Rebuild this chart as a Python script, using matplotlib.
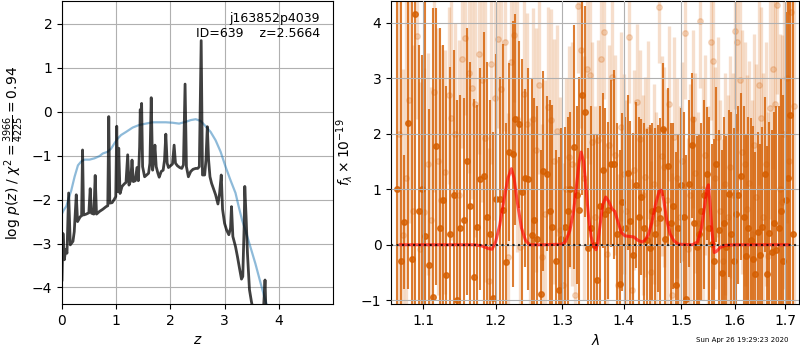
import matplotlib
matplotlib.use("Agg")
import matplotlib.pyplot as plt
from matplotlib.ticker import NullLocator, NullFormatter

# ---------------- p(z) panel ----------------
z_pz = [0.000, 0.018, 0.043, 0.067, 0.092, 0.122, 0.153, 0.202, 0.226, 0.263,
        0.287, 0.336, 0.361, 0.379, 0.398, 0.446, 0.495, 0.520, 0.544, 0.587,
        0.612, 0.636, 0.691, 0.752, 0.813, 0.844, 0.862, 0.881, 0.924, 0.966,
        0.991, 1.009, 1.028, 1.046, 1.070, 1.107, 1.150, 1.180, 1.211, 1.235,
        1.266, 1.291, 1.315, 1.352, 1.382, 1.407, 1.431, 1.443, 1.456, 1.468,
        1.486, 1.523, 1.560, 1.596, 1.621, 1.645, 1.670, 1.694, 1.713, 1.737,
        1.768, 1.792, 1.829, 1.865, 1.890, 1.914, 1.939, 1.963, 2.000, 2.037,
        2.067, 2.092, 2.128, 2.171, 2.208, 2.239, 2.269, 2.294, 2.330, 2.373,
        2.416, 2.465, 2.502, 2.532, 2.566, 2.590, 2.630, 2.654, 2.679, 2.703,
        2.728, 2.758, 2.801, 2.832, 2.875, 2.905, 2.936, 2.960, 2.997, 3.034,
        3.076, 3.107, 3.125, 3.150, 3.199, 3.235, 3.272, 3.309, 3.333, 3.358,
        3.370, 3.394, 3.419, 3.456, 3.492, 3.535, 3.627, 3.700, 3.731, 3.743,
        3.761, 3.810, 4.000, 4.500, 5.000]
logp = [-3.83, -2.77, -3.37, -3.14, -3.22, -1.85, -3.03, -2.95, -2.73, -1.89,
        -2.50, -2.39, -2.37, -0.87, -2.35, -2.33, -2.30, -1.75, -2.31, -2.33,
        -1.45, -2.33, -2.27, -2.22, -2.16, -2.14, -0.11, -2.08, -2.07, -1.99,
        -1.93, -0.33, -1.82, -0.83, -1.86, -1.70, -1.64, -1.61, -0.98, -1.67,
        -1.57, -1.10, -1.59, -1.57, -1.27, -1.57, -0.80, 0.05, -0.64, 0.19,
        -1.25, -1.48, -1.44, -1.40, -1.17, 0.32, -1.33, -1.10, -0.76, -1.25,
        -1.40, -1.49, -1.36, -1.33, -1.10, -0.51, -1.17, -1.27, -1.23, -1.19,
        -0.76, -1.17, -1.23, -1.27, -1.29, -1.21, 0.63, -1.25, -1.48, -1.36,
        -1.31, -1.29, -1.29, -1.25, 1.62, -1.44, -1.44, -1.10, -0.34, -1.10,
        -1.48, -1.63, -1.78, -1.89, -2.10, -1.86, -1.44, -2.22, -2.54, -2.69,
        -2.80, -2.65, -2.16, -2.84, -3.07, -3.30, -3.56, -3.81, -3.75, -2.61,
        -1.70, -2.39, -3.22, -4.05, -4.32, -4.58, -4.81, -4.81, -4.13, -3.83,
        -4.58, -5.04, -5.60, -6.50, -7.50]

z_prior = [0.000, 0.031, 0.080, 0.110, 0.171, 0.232, 0.294, 0.355, 0.416, 0.508,
           0.599, 0.691, 0.752, 0.844, 0.905, 0.966, 1.028, 1.089, 1.180, 1.303,
           1.425, 1.547, 1.670, 1.914, 2.037, 2.159, 2.281, 2.373, 2.465, 2.557,
           2.648, 2.740, 2.832, 2.924, 3.015, 3.107, 3.199, 3.260, 3.321, 3.382,
           3.474, 3.566, 3.657, 3.749, 3.810, 4.000]
logp_prior = [-2.32, -2.24, -2.15, -2.02, -1.79, -1.48, -1.22, -1.13, -1.09, -1.09,
              -1.06, -1.01, -0.95, -0.91, -0.84, -0.72, -0.61, -0.53, -0.46, -0.36,
              -0.30, -0.27, -0.24, -0.24, -0.25, -0.27, -0.23, -0.19, -0.17, -0.21,
              -0.33, -0.46, -0.65, -0.91, -1.25, -1.56, -1.85, -2.17, -2.47, -2.70,
              -3.08, -3.46, -3.88, -4.30, -4.52, -5.20]

pz_label = "j163852p4039\nID=639    z=2.5664"

# ---------------- spectrum panel ----------------
wave_a = [1.066, 1.071, 1.075, 1.080, 1.085, 1.089, 1.094, 1.099, 1.103, 1.108,
          1.113, 1.117, 1.122, 1.127, 1.131, 1.136, 1.141, 1.145, 1.150, 1.155,
          1.159, 1.164, 1.169, 1.173, 1.178, 1.183, 1.187, 1.192, 1.197, 1.201,
          1.206, 1.211, 1.215, 1.220, 1.225, 1.229, 1.234, 1.239, 1.243, 1.248,
          1.253, 1.257, 1.262, 1.267, 1.271, 1.276, 1.281, 1.285, 1.290, 1.295,
          1.299, 1.304, 1.309, 1.313, 1.318, 1.323, 1.327, 1.332, 1.337, 1.341,
          1.346, 1.351, 1.355, 1.360, 1.365, 1.369, 1.374, 1.379, 1.383, 1.388,
          1.393, 1.397, 1.402, 1.407, 1.411, 1.416, 1.421, 1.425, 1.430, 1.435,
          1.439, 1.444, 1.449, 1.453, 1.458, 1.463, 1.467, 1.472, 1.477, 1.481,
          1.486, 1.491, 1.495, 1.500, 1.505, 1.509, 1.514, 1.519, 1.523, 1.528,
          1.533, 1.537, 1.542, 1.547, 1.551, 1.556, 1.561, 1.565, 1.570, 1.575,
          1.579, 1.584, 1.589, 1.593, 1.598, 1.603, 1.607, 1.612, 1.617, 1.621,
          1.626, 1.631, 1.635, 1.640, 1.645, 1.649, 1.654, 1.659, 1.663, 1.668,
          1.673, 1.677, 1.682, 1.687, 1.691, 1.696, 1.701, 1.705, 1.710, 1.715]
flux_a = [1.00, -0.30, 0.41, 2.20, -0.25, 4.15, 0.60, 1.01, 0.15, -0.36,
          -0.94, 1.77, 0.30, 0.80, -0.54, 0.20, 0.90, -1.00, 0.30, 0.45,
          1.50, 0.69, -0.58, 0.32, 1.19, 1.23, 0.50, 0.20, -0.96, 0.83,
          0.83, 0.62, -0.31, 1.67, 1.63, 2.26, 2.17, 0.95, 1.20, 1.19,
          0.18, 0.44, 0.10, -0.89, 1.33, 1.28, 0.60, 0.32, -0.30, -0.82,
          0.10, 0.32, 0.60, 1.00, 1.76, 0.90, 0.62, 2.70, 2.40, -0.05,
          0.30, 0.00, -0.63, 0.70, 1.34, 0.56, 0.62, 1.46, 1.45, 0.20,
          -0.70, 0.77, 0.30, 1.30, 0.43, -0.19, 1.08, 0.50, 0.86, 0.30,
          0.08, -0.05, 0.60, 0.20, 0.65, 0.49, 2.08, 0.11, 1.42, 0.40,
          0.70, -0.73, 0.30, 1.07, 0.50, -0.98, 1.10, 1.79, 0.40, -0.04,
          0.20, 0.60, 0.90, 1.28, 0.30, 0.02, -0.29, 1.45, 0.27, -0.50,
          0.40, -0.04, 0.92, 0.20, -0.30, 0.56, 0.90, 1.23, 0.50, -0.20,
          0.30, 0.08, -0.26, -0.53, 0.23, -0.19, 0.32, 1.27, -0.52, 0.21,
          -0.13, 0.40, -0.10, 0.30, 0.60, -0.30, 0.80, 1.20, 2.33, 0.20]
err_a = [8.0, 8.0, 1.2, 3.0, 5.0, 6.0, 3.0, 2.4, 5.0, 2.8,
         5.2, 2.5, 3.6, 2.8, 3.4, 3.0, 2.6, 3.6, 2.4, 2.2,
         2.4, 2.6, 3.2, 2.2, 2.0, 2.6, 2.8, 2.4, 3.0, 2.6,
         2.2, 3.0, 2.5, 1.6, 2.4, 1.9, 1.5, 2.4, 1.6, 2.0,
         2.8, 2.2, 2.4, 2.6, 1.8, 1.4, 2.0, 2.2, 2.0, 2.4,
         2.0, 1.8, 1.7, 1.4, 2.2, 1.6, 2.4, 1.8, 1.9, 1.8,
         2.2, 2.0, 2.6, 1.8, 1.4, 1.9, 1.6, 1.5, 1.7, 2.0,
         2.4, 1.6, 2.0, 1.4, 1.8, 2.2, 1.5, 1.8, 1.4, 1.9,
         2.0, 2.2, 1.6, 1.9, 1.5, 1.8, 1.2, 2.0, 1.4, 1.8,
         1.5, 2.4, 1.7, 1.4, 1.9, 2.6, 1.5, 1.3, 1.9, 2.0,
         1.8, 1.6, 1.7, 1.2, 2.0, 1.8, 2.2, 1.4, 1.8, 2.2,
         1.9, 2.0, 1.5, 2.2, 2.4, 1.8, 1.6, 1.5, 2.0, 2.2,
         2.0, 2.2, 2.4, 2.2, 1.8, 2.0, 1.8, 1.4, 2.3, 2.0,
         2.2, 2.0, 2.6, 2.2, 2.4, 3.0, 3.4, 5.0, 8.0, 8.0]

wave_b = [1.068, 1.073, 1.078, 1.082, 1.087, 1.092, 1.096, 1.101, 1.106, 1.110,
          1.115, 1.120, 1.124, 1.129, 1.134, 1.138, 1.143, 1.148, 1.152, 1.157,
          1.162, 1.166, 1.171, 1.176, 1.180, 1.185, 1.190, 1.194, 1.199, 1.204,
          1.208, 1.213, 1.218, 1.222, 1.227, 1.232, 1.236, 1.241, 1.246, 1.250,
          1.255, 1.260, 1.264, 1.269, 1.274, 1.278, 1.283, 1.288, 1.292, 1.297,
          1.302, 1.306, 1.311, 1.316, 1.320, 1.325, 1.330, 1.334, 1.339, 1.344,
          1.348, 1.353, 1.358, 1.362, 1.367, 1.372, 1.376, 1.381, 1.386, 1.390,
          1.395, 1.400, 1.404, 1.409, 1.414, 1.418, 1.423, 1.428, 1.432, 1.437,
          1.442, 1.446, 1.451, 1.456, 1.460, 1.465, 1.470, 1.474, 1.479, 1.484,
          1.488, 1.493, 1.498, 1.502, 1.507, 1.512, 1.516, 1.521, 1.526, 1.530,
          1.535, 1.540, 1.544, 1.549, 1.554, 1.558, 1.563, 1.568, 1.572, 1.577,
          1.582, 1.586, 1.591, 1.596, 1.600, 1.605, 1.610, 1.614, 1.619, 1.624,
          1.628, 1.633, 1.638, 1.642, 1.647, 1.652, 1.656, 1.661, 1.666, 1.670,
          1.675, 1.680, 1.684, 1.689, 1.694, 1.698, 1.703, 1.708, 1.712, 1.717]
flux_b = [2.00, 0.17, 1.20, 2.60, 0.60, 3.76, -0.07, 0.59, 1.46, 0.44,
          2.75, 1.50, 0.80, 1.31, 2.69, 2.29, 2.00, 0.89, 3.34, 3.73,
          3.10, 2.83, 2.54, 3.43, 2.97, 1.93, -0.66, 3.26, 2.65, 3.71,
          2.81, 3.65, -0.22, 3.30, 3.77, 2.27, -0.04, 2.72, 2.17, 0.08,
          2.27, 1.71, 2.87, -0.22, 0.56, 2.48, 2.24, 1.50, 2.05, 0.26,
          -0.73, 1.00, 1.58, 1.46, -0.91, 4.30, 3.50, 1.20, 3.17, 3.05,
          1.85, 0.50, 1.88, 3.35, 3.83, -0.16, 1.79, 3.02, 1.61, -0.73,
          2.13, 1.28, 0.60, 3.75, -0.82, 1.34, 2.57, 1.91, 0.90, 1.22,
          2.07, -0.49, 1.10, 0.40, 4.28, 1.60, 1.40, 0.80, 2.54, -0.90,
          1.95, 1.20, 0.50, 1.50, 3.82, -0.07, 0.90, 2.27, 1.30, 0.40,
          4.03, 1.00, 1.61, 0.30, 3.65, 3.31, 1.20, 1.94, 0.60, -0.30,
          1.10, 0.50, 1.40, 0.90, 3.85, 3.65, 2.96, 1.67, 1.46, 0.65,
          1.11, 0.20, 1.80, 0.86, 2.87, 2.29, 0.50, 1.45, -0.20, 2.47,
          3.17, 2.53, 4.31, 1.00, 0.77, 2.00, 3.00, 1.50, 4.20, 2.50]
err_b = [4.0, 3.0, 3.5, 2.2, 3.0, 1.5, 3.0, 2.6, 2.0, 2.4,
         1.8, 2.4, 2.8, 2.2, 1.6, 2.2, 2.0, 2.8, 1.6, 1.4,
         1.8, 2.0, 2.4, 1.8, 2.2, 2.6, 2.4, 1.8, 2.2, 1.6,
         2.0, 1.6, 2.6, 1.6, 1.2, 2.4, 2.2, 1.8, 2.0, 2.2,
         2.0, 2.2, 1.6, 2.4, 2.4, 1.8, 2.0, 2.2, 1.9, 2.4,
         2.2, 2.0, 2.0, 2.2, 2.4, 1.2, 1.4, 2.2, 1.6, 1.6,
         1.8, 2.0, 1.8, 1.4, 1.2, 2.0, 1.8, 1.4, 1.8, 2.0,
         1.7, 1.8, 2.0, 1.2, 2.0, 1.8, 1.4, 1.6, 1.8, 1.8,
         1.6, 2.0, 1.8, 2.0, 1.0, 1.8, 1.8, 2.0, 1.4, 2.2,
         1.8, 1.8, 2.0, 1.8, 1.2, 2.0, 2.0, 1.6, 1.8, 2.0,
         1.2, 2.0, 1.8, 2.2, 1.4, 1.4, 2.0, 1.8, 2.0, 2.2,
         2.0, 2.2, 2.0, 2.2, 1.4, 1.6, 1.8, 2.2, 2.2, 2.4,
         2.2, 2.4, 2.0, 2.4, 1.8, 2.0, 2.6, 2.2, 2.6, 2.0,
         1.8, 2.2, 1.6, 2.8, 3.0, 2.8, 2.6, 3.4, 3.0, 4.0]

wave_model = [1.070, 1.100, 1.140, 1.170, 1.180, 1.190, 1.195, 1.200, 1.206, 1.212,
              1.218, 1.223, 1.227, 1.232, 1.238, 1.244, 1.250, 1.270, 1.300, 1.305,
              1.312, 1.318, 1.323, 1.327, 1.330, 1.334, 1.338, 1.342, 1.346, 1.350,
              1.354, 1.357, 1.360, 1.365, 1.370, 1.375, 1.380, 1.385, 1.390, 1.396,
              1.402, 1.410, 1.417, 1.424, 1.431, 1.436, 1.442, 1.448, 1.455, 1.461,
              1.465, 1.469, 1.474, 1.480, 1.487, 1.495, 1.520, 1.530, 1.537, 1.543,
              1.547, 1.550, 1.553, 1.557, 1.561, 1.565, 1.572, 1.582, 1.600, 1.650,
              1.706]
flux_model = [0.00, 0.00, 0.00, 0.00, -0.02, -0.07, -0.08, 0.05, 0.35, 0.80,
              1.20, 1.37, 1.20, 0.75, 0.30, 0.08, 0.00, 0.00, 0.01, 0.05,
              0.25, 0.60, 1.10, 1.50, 1.67, 1.50, 1.00, 0.50, 0.15, -0.02,
              -0.09, 0.05, 0.30, 0.72, 0.86, 0.78, 0.65, 0.60, 0.42, 0.22,
              0.16, 0.15, 0.14, 0.08, 0.05, 0.08, 0.18, 0.40, 0.75, 0.97,
              0.98, 0.80, 0.45, 0.20, 0.07, 0.01, 0.00, 0.05, 0.30, 0.70,
              1.00, 1.08, 0.75, 0.20, -0.14, -0.12, -0.05, -0.01, 0.00, 0.00,
              0.00]

wave_ticks = [1.1, 1.2, 1.3, 1.4, 1.5, 1.6, 1.7]
timestamp = "Sun Apr 26 19:29:23 2020"

grism_color = (0.835, 0.369, 0.0)

fig = plt.figure(figsize=(8, 3.5), dpi=100)
ax1 = fig.add_axes([0.0775, 0.131, 0.339, 0.866])
ax2 = fig.add_axes([0.489, 0.131, 0.51, 0.866])

# p(z)
ax1.plot(z_pz, logp, color='k', alpha=0.75, lw=2, zorder=3)
ax1.plot(z_prior, logp_prior, color='#1f77b4', alpha=0.5, lw=1.6, zorder=2)
ax1.set_xlim(0, 5)
ax1.set_ylim(-4.38, 2.52)
ax1.set_xticks([0, 1, 2, 3, 4])
ax1.set_yticks([-4, -3, -2, -1, 0, 1, 2])
ax1.grid(True)
ax1.set_xlabel(r'$z$')
ax1.set_ylabel(r'log $p(z)$ / $\chi^2=\frac{3966}{4225}=0.94$')
ax1.text(0.95, 0.965, pz_label, ha='right', va='top',
         transform=ax1.transAxes, fontsize=9)

# 1D spectrum
ax2.errorbar(wave_b, flux_b, yerr=err_b, fmt='o', ms=4, color=grism_color,
             alpha=0.2, elinewidth=2.4, capsize=0, zorder=1)
ax2.errorbar(wave_a, flux_a, yerr=err_a, fmt='o', ms=4, color=grism_color,
             alpha=0.8, elinewidth=1.5, capsize=0, zorder=2)
ax2.plot(wave_model, flux_model, color='r', alpha=0.65, lw=2.2, zorder=4)
ax2.axhline(0, color='k', ls=':', lw=1.5, alpha=0.8, zorder=5)

ax2.set_xscale('log')
ax2.set_xlim(1.0585, 1.7287)
ax2.set_ylim(-1.07, 4.39)
ax2.set_xticks(wave_ticks)
ax2.set_xticklabels([f'{w:.1f}' for w in wave_ticks])
ax2.xaxis.set_minor_locator(NullLocator())
ax2.xaxis.set_minor_formatter(NullFormatter())
ax2.set_yticks([-1, 0, 1, 2, 3, 4])
ax2.set_axisbelow(False)
ax2.grid(True)
ax2.set_xlabel(r'$\lambda$')
ax2.set_ylabel(r'$f_\lambda\times10^{-19}$')

fig.text(0.985, 0.02, timestamp, ha='right', va='bottom', fontsize=5)

fig.savefig('out.png', dpi=100)
